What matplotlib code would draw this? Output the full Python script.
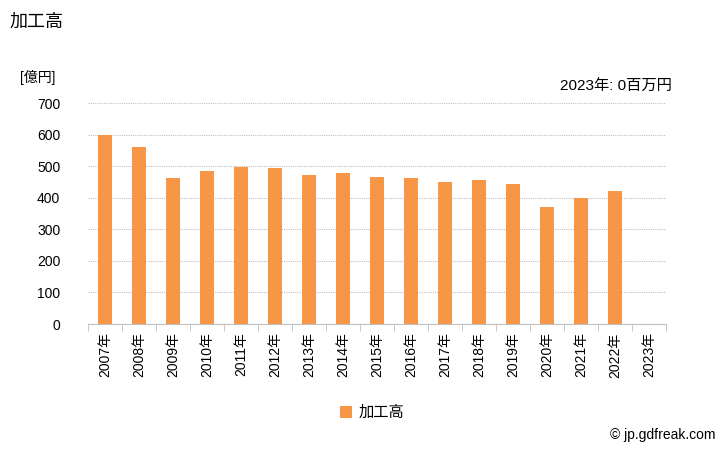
import numpy as np
import matplotlib
matplotlib.use("Agg")
import matplotlib.pyplot as plt

plt.rcParams['font.family'] = ['Liberation Sans', 'Noto Sans CJK JP']

# データ（億円）
years = [f"{y}年" for y in range(2007, 2024)]
values = [598, 560, 462, 485, 497, 494, 472, 478, 466, 462, 450, 456, 443, 370, 399, 421, 0]
bar_color = '#F79646'

fig = plt.figure(figsize=(7.28, 4.5), dpi=100)
ax = fig.add_axes([0.1209, 0.28, 0.794, 0.4911])

x = np.arange(len(years))
ax.bar(x, values, width=0.39, color=bar_color, zorder=3, label='加工高')

ax.set_xlim(-0.5, len(years) - 0.5)
ax.set_ylim(0, 700)
ax.set_yticks(range(0, 701, 100))
ax.yaxis.grid(True, linestyle=(0, (1, 1)), color='#c0c0c0', linewidth=0.8, zorder=0)

ax.set_xticks(x)
ax.set_xticklabels(years, rotation=90, fontsize=10)
ax.set_xticks(np.arange(-0.5, len(years)), minor=True)
ax.tick_params(axis='x', which='major', length=0, pad=6)
ax.tick_params(axis='x', which='minor', length=5, color='#c0c0c0')
ax.tick_params(axis='y', length=0, labelsize=10, pad=20)

for s in ['top', 'right', 'left']:
    ax.spines[s].set_visible(False)
ax.spines['bottom'].set_color('#c0c0c0')

fig.text(10 / 728, 1 - 22 / 450, '加工高', fontsize=13, va='center', ha='left')
fig.text(20 / 728, 1 - 77 / 450, '[億円]', fontsize=10, va='center', ha='left')
fig.text(672 / 728, 1 - 87 / 450, '2023年: 0百万円', fontsize=11, va='center', ha='right')
fig.text(715 / 728, 1 - 435 / 450, '© jp.gdfreak.com', fontsize=10, va='center', ha='right')

fig.legend(loc='center', bbox_to_anchor=(372 / 728, 1 - 413 / 450), frameon=False,
           fontsize=11, handlelength=0.8, handleheight=0.8, handletextpad=0.4)

fig.savefig('out.png', dpi=100)
